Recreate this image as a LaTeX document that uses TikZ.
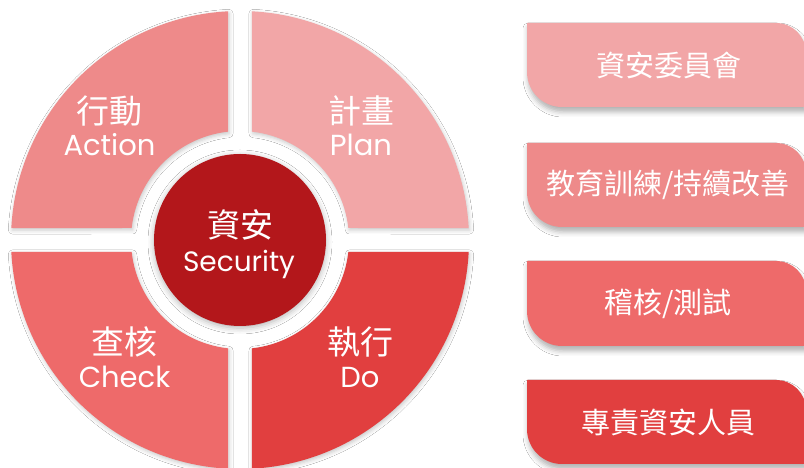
\documentclass[tikz,border=0pt]{standalone}
\usepackage{fontspec}
\setmainfont{Poppins}
\newfontfamily\cjk{Noto Sans CJK TC}
\usetikzlibrary{shadows.blur,calc}
\definecolor{cplan}{HTML}{F2A6A7}
\definecolor{caction}{HTML}{EE8A8A}
\definecolor{ccheck}{HTML}{EE6A6A}
\definecolor{cdo}{HTML}{E13F3F}
\definecolor{ccenter}{HTML}{B3171B}
\begin{document}
\begin{tikzpicture}[x=1pt,y=1pt,
  quad/.style={blur shadow={shadow xshift=1pt,shadow yshift=-2pt,shadow blur radius=4pt,shadow opacity=22}},
  boxsh/.style={blur shadow={shadow xshift=1pt,shadow yshift=-5pt,shadow blur radius=5pt,shadow opacity=30}},
  cjkbig/.style={text=white,inner sep=0pt,font=\cjk\fontsize{33}{36}\selectfont},
  latin/.style={text=white,inner sep=0pt,anchor=base,font=\fontsize{29}{32}\selectfont},
  boxtext/.style={text=white,inner sep=0pt,font=\cjk\fontsize{29}{31}\selectfont}]
\clip (0,0) rectangle (804,468);
\fill[white] (0,0) rectangle (804,468);
\coordinate (C) at (240,228);
% quadrants
\fill[cplan,quad] ($(C)+(3:229pt)$) arc[start angle=3,end angle=87,radius=229pt]
  -- ($(C)+(83.68:109pt)$) arc[start angle=83.68,end angle=6.32,radius=109pt] -- cycle;
\fill[caction,quad] ($(C)+(93:229pt)$) arc[start angle=93,end angle=177,radius=229pt]
  -- ($(C)+(173.68:109pt)$) arc[start angle=173.68,end angle=96.32,radius=109pt] -- cycle;
\fill[ccheck,quad] ($(C)+(183:229pt)$) arc[start angle=183,end angle=267,radius=229pt]
  -- ($(C)+(263.68:109pt)$) arc[start angle=263.68,end angle=186.32,radius=109pt] -- cycle;
\fill[cdo,quad] ($(C)+(273:229pt)$) arc[start angle=273,end angle=357,radius=229pt]
  -- ($(C)+(353.68:109pt)$) arc[start angle=353.68,end angle=276.32,radius=109pt] -- cycle;
% center
\fill[ccenter,blur shadow={shadow xshift=0pt,shadow yshift=-2pt,shadow blur radius=6pt,shadow opacity=30}] (C) circle[radius=86pt];
% quadrant texts
\node[cjkbig] (actzh) at (109.5,357) {行動};
\node[latin] (acten) at (109.5,312) {Action};
\node[cjkbig] (planzh) at (361.5,357) {計畫};
\node[latin] (planen) at (361,312) {Plan};
\node[cjkbig] (checkzh) at (124,126) {查核};
\node[latin] (checken) at (124.5,80) {Check};
\node[cjkbig] (dozh) at (360,126) {執行};
\node[latin] (doen) at (360,80) {Do};
\node[cjkbig] (seczh) at (240,243) {資安};
\node[latin,font=\fontsize{28}{30}\selectfont] (secen) at (239,196) {Security};
% right boxes
\fill[cplan,boxsh] (527,445) -- (776,445) arc[start angle=90,end angle=0,radius=30pt]
  -- (806,361) -- (562,361) arc[start angle=270,end angle=180,radius=35pt] -- cycle;
\fill[caction,boxsh] (527,325) -- (776,325) arc[start angle=90,end angle=0,radius=30pt]
  -- (806,241) -- (562,241) arc[start angle=270,end angle=180,radius=35pt] -- cycle;
\fill[ccheck,boxsh] (527,207) -- (776,207) arc[start angle=90,end angle=0,radius=30pt]
  -- (806,122) -- (562,122) arc[start angle=270,end angle=180,radius=35pt] -- cycle;
\fill[cdo,boxsh] (527,88) -- (776,88) arc[start angle=90,end angle=0,radius=30pt]
  -- (806,4) -- (562,4) arc[start angle=270,end angle=180,radius=35pt] -- cycle;
\node[boxtext] (b1) at (669,403) {資安委員會};
\node[boxtext] (b2) at (668,283) {教育訓練/持續改善};
\node[boxtext] (b3) at (668,164.5) {稽核/測試};
\node[boxtext] (b4) at (668,46) {專責資安人員};
\end{tikzpicture}
\end{document}
